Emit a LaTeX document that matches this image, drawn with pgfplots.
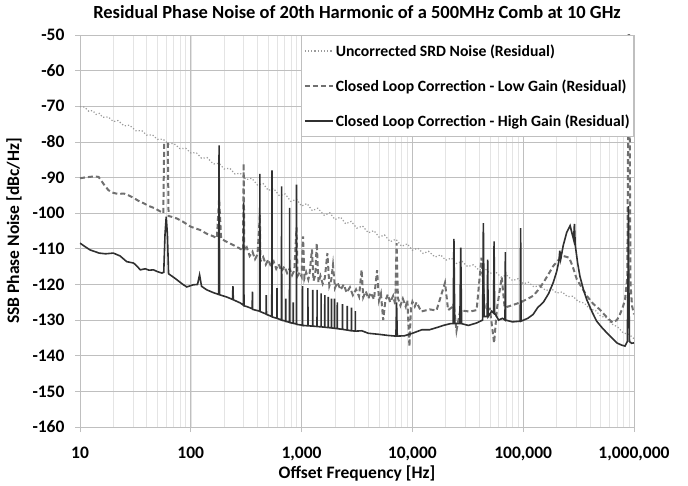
\documentclass[border=0pt]{standalone}
\usepackage{fontspec}
\setmainfont{Carlito}
\usepackage{pgfplots}
\pgfplotsset{compat=1.18}

\definecolor{srd}{HTML}{9A9A9A}
\definecolor{lowgain}{HTML}{707070}
\definecolor{highgain}{HTML}{303030}
\definecolor{majgrid}{HTML}{BFBFBF}
\definecolor{mingrid}{HTML}{E4E4E4}

\begin{document}
\begin{tikzpicture}
\begin{axis}[
    width=554pt, height=392pt,
    scale only axis,
    xmode=log,
    xmin=10, xmax=1000000,
    ymin=-160, ymax=-50,
    xtick={10,100,1000,10000,100000,1000000},
    xticklabels={10,100,{1,000},{10,000},{100,000},{1,000,000}},
    ytick={-160,-150,-140,-130,-120,-110,-100,-90,-80,-70,-60,-50},
    yticklabels={-160,-150,-140,-130,-120,-110,-100,-90,-80,-70,-60,-50},
    tick label style={font=\fontsize{17.5}{20}\selectfont\bfseries},
    xticklabel style={yshift=-11pt},
    yticklabel style={xshift=-7pt},
    tick align=outside,
    major tick length=5pt,
    minor tick length=0pt,
    tick style={color=majgrid, line width=0.8pt},
    xtick pos=bottom, ytick pos=left,
    grid=both,
    major grid style={color=majgrid, line width=0.8pt},
    minor grid style={color=mingrid, line width=0.6pt},
    yminorgrids=false,
    axis line style={color=majgrid, line width=0.8pt},
    title={Residual Phase Noise of 20th Harmonic of a 500MHz Comb at 10 GHz},
    title style={font=\fontsize{18.5}{22}\selectfont\bfseries,
        at={([yshift=17pt]axis description cs:0.5,1)}, anchor=center},
    xlabel={Offset Frequency [Hz]},
    ylabel={SSB Phase Noise [dBc/Hz]},
    label style={font=\fontsize{17.5}{20}\selectfont\bfseries},
    xlabel style={at={([yshift=-46pt]axis description cs:0.5,0)}, anchor=center},
    ylabel style={at={([xshift=-66pt]axis description cs:0,0.5)}, anchor=center},
    legend style={
        at={(1,1)}, anchor=north east,
        draw=majgrid, line width=0.8pt, fill=white,
        font=\fontsize{15.7}{18}\selectfont\bfseries,
        row sep=18pt, inner xsep=2pt, inner ysep=7pt,
    },
    legend cell align=left,
    legend image code/.code={\draw[#1] (0pt,0pt) -- (28pt,0pt);},
]

% Uncorrected SRD noise (residual)
\addplot[srd, dotted, line width=1.2pt] coordinates {
(10,-70.1) (11,-70.2) (12,-71.4) (13,-71.2) (14,-72.3) (15,-72.0) (16,-73.1) (18,-73.0)
(20,-74.3) (22,-74.0) (25,-75.5) (28,-75.3) (32,-76.9) (36,-76.8) (40,-78.1) (45,-78.0)
(50,-79.3) (56,-79.2) (63,-80.6) (70,-80.4) (80,-81.9) (90,-81.8) (100,-83.1) (112,-83.0)
(125,-84.6) (140,-84.4) (160,-86.2) (180,-86.0) (200,-87.6) (225,-87.4) (250,-89.0) (280,-88.8)
(315,-90.6) (355,-90.2) (400,-92.1) (450,-91.7) (500,-93.6) (560,-93.1) (630,-95.1) (710,-94.6)
(800,-96.7) (900,-96.1) (1000,-98.0) (1120,-97.3) (1250,-99.3) (1400,-98.6) (1600,-100.6) (1800,-99.9)
(2000,-101.8) (2250,-101.1) (2500,-103.0) (2800,-102.3) (3150,-104.2) (3550,-103.6) (4000,-105.5) (4500,-104.9)
(5000,-106.7) (5600,-106.1) (6300,-108.0) (7100,-107.3) (8000,-109.3) (9000,-108.6) (10000,-110.4) (11200,-109.8)
(12500,-111.3) (14000,-110.7) (16000,-112.3) (18000,-111.7) (20000,-113.2) (22500,-112.6) (25000,-114.1) (28000,-113.5)
(31500,-115.0) (35500,-114.5) (40000,-116.0) (45000,-115.5) (50000,-116.9) (56000,-116.4) (63000,-117.9) (71000,-117.4)
(80000,-118.9) (90000,-118.4) (100000,-119.8) (112000,-119.4) (125000,-120.7) (140000,-120.3) (160000,-121.7) (180000,-121.2)
(200000,-122.4) (225000,-122.1) (250000,-123.4) (280000,-123.3) (315000,-124.8) (355000,-125.2) (400000,-126.9) (450000,-127.3)
(500000,-128.9) (560000,-129.3) (630000,-131.1) (710000,-131.9) (800000,-133.6) (900000,-134.0) (1000000,-135.2)
};
\addlegendentry{Uncorrected SRD Noise (Residual)}

% Closed loop correction - low gain (residual)
\addplot[lowgain, dashed, dash pattern=on 5pt off 3pt, line width=2pt] coordinates {
(10,-90.2) (11.5,-89.9) (13.3,-89.7) (14.7,-89.8) (16.5,-92.0) (18,-93.5) (19.4,-94.2) (22,-94.6)
(25,-94.5) (27,-94.9) (30,-95.6) (34,-96.6) (37.4,-97.2) (42,-98.0) (47,-98.6) (53,-99.5)
(56.5,-100.0) (57.5,-80.5) (62,-80.5) (63,-100.8) (67,-101.0) (75,-101.5) (85,-102.4) (100,-103.8)
(121,-104.7) (140,-105.8) (160,-106.5) (172,-107.0) (180,-96.0) (188,-107.2) (210,-108.0) (240,-108.9)
(280,-110.0) (296,-110.5) (300,-86.0) (304,-110.6) (320,-109.6) (340,-112.0) (360,-110.8) (380,-112.9)
(400,-111.6) (420,-100.5) (425,-113.5) (450,-112.3) (475,-114.4) (500,-113.0) (530,-115.0) (560,-113.6)
(590,-115.6) (620,-114.3) (660,-116.3) (700,-114.9) (740,-116.8) (780,-115.6) (820,-117.4) (860,-116.0)
(900,-104.0) (920,-117.6) (960,-116.6) (1000,-117.8) (1030,-106.5) (1060,-118.3) (1100,-116.6) (1150,-118.6)
(1180,-117.0) (1240,-110.2) (1280,-119.0) (1330,-117.3) (1370,-108.4) (1420,-119.4) (1480,-117.6) (1550,-119.8)
(1620,-118.2) (1710,-111.2) (1780,-120.4) (1850,-118.8) (1920,-114.5) (2000,-121.0) (2100,-119.4) (2250,-121.5)
(2400,-120.0) (2550,-122.3) (2730,-120.8) (2900,-123.0) (3100,-121.4) (3300,-123.4) (3480,-115.9) (3600,-123.6)
(3800,-121.9) (4000,-124.0) (4200,-122.3) (4500,-124.2) (4800,-116.0) (5000,-124.5) (5200,-122.6) (5450,-130.0)
(5700,-124.6) (6000,-122.8) (6300,-125.0) (6700,-123.2) (7000,-125.6) (7200,-108.4) (7400,-123.8) (7800,-125.9)
(8200,-124.0) (8700,-126.2) (9000,-124.4) (9400,-137.4) (9700,-126.5) (10000,-124.8) (10500,-126.2) (10900,-125.0)
(12000,-127.6) (14300,-127.0) (16500,-127.3) (19700,-119.5) (21000,-127.2) (23700,-126.0) (25000,-133.0) (27000,-127.3)
(33000,-127.6) (38000,-127.2) (42000,-112.5) (45000,-127.1) (50000,-126.8) (54600,-136.4) (58000,-126.7) (64000,-118.0)
(68000,-126.5) (80000,-125.8) (95000,-125.0) (110000,-124.0) (123000,-123.2) (137000,-121.5) (152000,-119.5) (170000,-117.0)
(187000,-114.8) (210000,-113.0) (230000,-112.0) (260000,-112.5) (280000,-115.0) (305000,-118.6) (340000,-121.0) (375000,-123.2)
(430000,-125.5) (490000,-127.0) (560000,-129.0) (640000,-130.7) (700000,-130.0) (735000,-128.9) (790000,-126.5) (830000,-124.3)
(870000,-118.0) (895000,-50) (905000,-50) (930000,-120.0) (960000,-126.0) (1000000,-128.4)
};
\addlegendentry{Closed Loop Correction - Low Gain (Residual)}

% Closed loop correction - high gain (residual)
\addplot[highgain, solid, line width=1.6pt] coordinates {
(10,-108.4) (11,-109.3) (12.3,-110.3) (14.9,-111.2) (17,-111.4) (20,-111.2) (23,-112.0) (26.4,-113.6)
(30.5,-114.0) (33,-115.0) (35,-115.9) (38.8,-115.6) (42,-116.0) (46,-115.9) (50,-116.4) (54.8,-116.8)
(57,-116.6) (58.5,-106) (60,-101) (61.5,-106) (63,-117.0) (65,-117.3) (70,-118.0) (75,-118.7)
(85,-120.0) (92,-120.7) (105,-120.1) (115,-120.0) (120,-117.3) (125,-120.5) (139,-121.5) (160,-122.3)
(178,-122.8) (180,-81) (182,-122.9) (210,-123.5) (238,-124.2) (240,-120.5) (242,-124.3) (280,-125.2)
(298,-125.8) (300,-97) (302,-126.0) (320,-126.2) (358,-126.8) (360,-122) (362,-127.0) (418,-127.5)
(420,-89) (422,-127.6) (478,-128.3) (480,-123) (482,-128.4) (538,-129.0) (540,-88) (542,-129.1)
(598,-129.5) (600,-121) (602,-129.5) (658,-130.0) (660,-92.5) (662,-130.0) (718,-130.3) (720,-124)
(722,-130.4) (778,-130.6) (780,-98.5) (782,-130.7) (838,-130.9) (840,-125) (842,-130.9) (898,-131.1)
(900,-92) (902,-131.2) (1000,-131.4) (1018,-131.5) (1020,-120.5) (1022,-131.5) (1138,-131.6) (1140,-121)
(1142,-131.6) (1258,-131.7) (1260,-121.5) (1262,-131.7) (1378,-131.8) (1380,-121.5) (1382,-131.8) (1498,-131.9)
(1500,-122.5) (1502,-131.9) (1618,-132.0) (1620,-123) (1622,-132.0) (1738,-132.1) (1740,-123.5) (1742,-132.1)
(1858,-132.2) (1860,-124) (1862,-132.2) (1978,-132.3) (1980,-124) (1982,-132.3) (2098,-132.4) (2100,-125)
(2102,-132.4) (2338,-132.6) (2340,-125.5) (2342,-132.6) (2578,-132.8) (2580,-126) (2582,-132.8) (2818,-133.0)
(2820,-126.5) (2822,-133.0) (3058,-133.1) (3060,-127.5) (3062,-133.1) (3500,-133.0) (4000,-133.7) (5000,-134.0)
(6000,-134.3) (7100,-134.5) (7200,-125) (7300,-134.5) (8500,-134.4) (10000,-133.7) (12200,-132.7) (14300,-132.7)
(17000,-132.0) (19000,-131.5) (22000,-131.0) (23300,-131.0) (23700,-107.2) (24100,-131.0) (26800,-131.0) (27300,-109.7)
(27800,-131.0) (32000,-131.5) (38000,-130.8) (43000,-130.0) (43700,-102.8) (44400,-129.0) (47300,-129.0) (47800,-113)
(48300,-129.0) (52000,-127.5) (54000,-128.0) (54600,-107.9) (55200,-128.0) (60000,-130.0) (65000,-129.5) (68500,-130.0)
(69000,-110.9) (69500,-130.0) (80000,-130.5) (94000,-130.3) (94800,-104.2) (95600,-130.3) (110000,-129.5) (123000,-128.4)
(135000,-126.5) (152000,-125.0) (170000,-122.5) (187000,-119.4) (200000,-116.5) (210000,-113.5) (214000,-110.5) (218000,-112.9)
(230000,-109.0) (247000,-105.4) (265000,-103.5) (275000,-105.5) (285000,-107.4) (290000,-103) (295000,-109.0) (310000,-114.0)
(325000,-117.7) (350000,-121.5) (375000,-124.3) (420000,-127.8) (460000,-130.3) (520000,-132.3) (570000,-133.6) (640000,-135.2)
(700000,-136.4) (770000,-137.0) (830000,-137.3) (870000,-136.0) (885000,-115) (890000,-98) (895000,-115) (910000,-136.0)
(950000,-136.5) (1000000,-136.4)
};
\addlegendentry{Closed Loop Correction - High Gain (Residual)}

\end{axis}
\pgfresetboundingbox
\path ([xshift=-80pt,yshift=-58pt]current axis.south west) rectangle ([xshift=54pt,yshift=35pt]current axis.north east);
\end{tikzpicture}
\end{document}
